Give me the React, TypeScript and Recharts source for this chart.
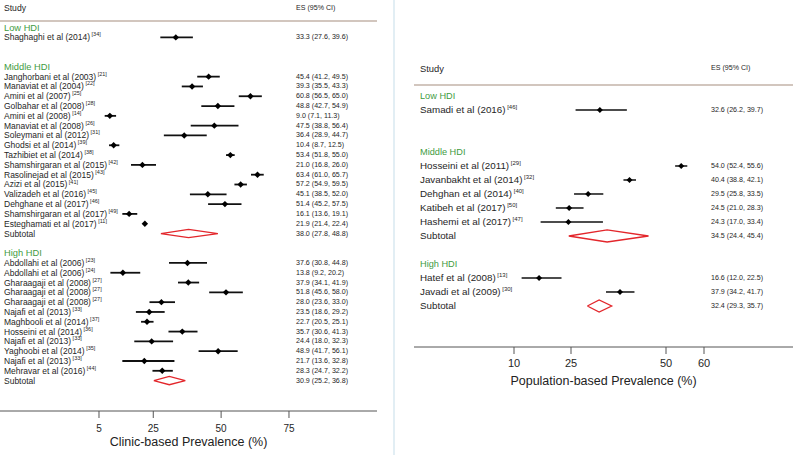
import React from 'react';
import { ComposedChart, Scatter, XAxis, YAxis, ErrorBar } from 'recharts';

// ---------- Clinic-based (left panel) ----------
const clinicLowStudies = ['Shaghaghi et al (2014)'];
const clinicLowRefs = ['34'];
const clinicLowES = [33.3];
const clinicLowLo = [27.6];
const clinicLowHi = [39.6];

const clinicMidStudies = [
  'Janghorbani et al (2003)', 'Manaviat et al (2004)', 'Amini et al (2007)', 'Golbahar et al (2008)',
  'Amini et al (2008)', 'Manaviat et al (2008)', 'Soleymani et al (2012)', 'Ghodsi et al (2014)',
  'Tazhibiet et al (2014)', 'Shamshirgaran et al (2015)', 'Rasolinejad et al (2015)', 'Azizi et al (2015)',
  'Valizadeh et al (2016)', 'Dehghane et al (2017)', 'Shamshirgaran et al (2017)', 'Esteghamati et al (2017)',
];
const clinicMidRefs = ['21', '22', '25', '28', '14', '26', '31', '39', '38', '42', '43', '41', '45', '46', '49', '11'];
const clinicMidES = [45.4, 39.3, 60.8, 48.8, 9.0, 47.5, 36.4, 10.4, 53.4, 21.0, 63.4, 57.2, 45.1, 51.4, 16.1, 21.9];
const clinicMidLo = [41.2, 35.5, 56.5, 42.7, 7.1, 38.8, 28.9, 8.7, 51.8, 16.8, 61.0, 54.9, 38.5, 45.2, 13.6, 21.4];
const clinicMidHi = [49.5, 43.3, 65.0, 54.9, 11.3, 56.4, 44.7, 12.5, 55.0, 26.0, 65.7, 59.5, 52.0, 57.5, 19.1, 22.4];
const clinicMidSubtotal = [38.0, 27.8, 48.8];

const clinicHighStudies = [
  'Abdollahi et al (2006)', 'Abdollahi et al (2006)', 'Gharaagaji et al (2008)', 'Gharaagaji et al (2008)',
  'Gharaagaji et al (2008)', 'Najafi et al (2013)', 'Maghbooli et al (2014)', 'Hosseini et al (2014)',
  'Najafi et al (2013)', 'Yaghoobi et al (2014)', 'Najafi et al (2013)', 'Mehravar et al (2016)',
];
const clinicHighRefs = ['23', '24', '27', '27', '27', '33', '37', '36', '33', '35', '33', '44'];
const clinicHighES = [37.6, 13.8, 37.9, 51.8, 28.0, 23.5, 22.7, 35.7, 24.4, 48.9, 21.7, 28.3];
const clinicHighLo = [30.8, 9.2, 34.1, 45.6, 23.6, 18.6, 20.5, 30.6, 18.0, 41.7, 13.6, 24.7];
const clinicHighHi = [44.8, 20.2, 41.9, 58.0, 33.0, 29.2, 25.1, 41.3, 32.3, 56.1, 32.8, 32.2];
const clinicHighSubtotal = [30.9, 25.2, 36.8];
const clinicTicks = [5, 25, 50, 75];

// ---------- Population-based (right panel) ----------
const popLowStudies = ['Samadi et al (2016)'];
const popLowRefs = ['46'];
const popLowES = [32.6];
const popLowLo = [26.2];
const popLowHi = [39.7];

const popMidStudies = ['Hosseini et al (2011)', 'Javanbakht et al (2014)', 'Dehghan et al (2014)', 'Katibeh et al (2017)', 'Hashemi et al (2017)'];
const popMidRefs = ['29', '32', '40', '50', '47'];
const popMidES = [54.0, 40.4, 29.5, 24.5, 24.3];
const popMidLo = [52.4, 38.8, 25.8, 21.0, 17.0];
const popMidHi = [55.6, 42.1, 33.5, 28.3, 33.4];
const popMidSubtotal = [34.5, 24.4, 45.4];

const popHighStudies = ['Hatef et al (2008)', 'Javadi et al (2009)'];
const popHighRefs = ['13', '30'];
const popHighES = [16.6, 37.9];
const popHighLo = [12.0, 34.2];
const popHighHi = [22.5, 41.7];
const popHighSubtotal = [32.4, 29.3, 35.7];
const popTicks = [10, 25, 50, 60];

const groupTitles = ['Low HDI', 'Middle HDI', 'High HDI'];

// ---------- helpers ----------
const FONT = '"Liberation Sans", Arial, Helvetica, sans-serif';
const GREEN = '#3f9b3f';
const RED = '#e3262b';
const TEXT = '#262626';

type Group = { title: string; studies: string[]; refs: string[]; es: number[]; lo: number[]; hi: number[]; sub: number[] | null };
type Row = { idx: number; kind: string; label: string; ref?: string; es?: number; lo?: number; hi?: number };

function buildRows(groups: Group[]): Row[] {
  const rows: Row[] = [];
  let i = 0;
  for (const g of groups) {
    rows.push({ idx: i++, kind: 'group', label: g.title });
    g.studies.forEach((s, k) => rows.push({ idx: i++, kind: 'study', label: s, ref: g.refs[k], es: g.es[k], lo: g.lo[k], hi: g.hi[k] }));
    if (g.sub) rows.push({ idx: i, kind: 'subtotal', label: 'Subtotal', es: g.sub[0], lo: g.sub[1], hi: g.sub[2] });
    i += 2;
  }
  return rows;
}

const clinicRows = buildRows([
  { title: groupTitles[0], studies: clinicLowStudies, refs: clinicLowRefs, es: clinicLowES, lo: clinicLowLo, hi: clinicLowHi, sub: null },
  { title: groupTitles[1], studies: clinicMidStudies, refs: clinicMidRefs, es: clinicMidES, lo: clinicMidLo, hi: clinicMidHi, sub: clinicMidSubtotal },
  { title: groupTitles[2], studies: clinicHighStudies, refs: clinicHighRefs, es: clinicHighES, lo: clinicHighLo, hi: clinicHighHi, sub: clinicHighSubtotal },
]);
const popRows = buildRows([
  { title: groupTitles[0], studies: popLowStudies, refs: popLowRefs, es: popLowES, lo: popLowLo, hi: popLowHi, sub: null },
  { title: groupTitles[1], studies: popMidStudies, refs: popMidRefs, es: popMidES, lo: popMidLo, hi: popMidHi, sub: popMidSubtotal },
  { title: groupTitles[2], studies: popHighStudies, refs: popHighRefs, es: popHighES, lo: popHighLo, hi: popHighHi, sub: popHighSubtotal },
]);

const fmt = (v?: number) => (v ?? 0).toFixed(1);

type PanelProps = {
  rows: Row[]; left: number; top: number; width: number; height: number;
  margin: { top: number; right: number; bottom: number; left: number };
  xDomain: [number, number]; yDomain: [number, number]; xTicks: number[]; xTitle: string;
  axisHeight: number; tickMargin: number; tickFont: number; titleOffset: number;
  labelFont: number; groupFont: number; headerFont: number; esFont: number; supFont: number;
  labelOffset: number; esOffset: number; headerLineGap: number;
  ciWidth: number; markerSize: number; diamondHalf: number;
};

function ForestPanel(p: PanelProps) {
  const x0 = p.xDomain[0];
  const plotWidth = p.width - p.margin.left - p.margin.right;
  const labelData = [
    { x: x0, y: p.yDomain[0], kind: 'header', label: 'Study' },
    ...p.rows.map((r) => ({ ...r, x: x0, y: r.idx })),
  ];
  const studyData = p.rows
    .filter((r) => r.kind === 'study')
    .map((r) => ({ x: r.es, y: r.idx, err: [+(r.es! - r.lo!).toFixed(2), +(r.hi! - r.es!).toFixed(2)] }));
  const subRows = p.rows.filter((r) => r.kind === 'subtotal');

  const renderLabel = (props: any) => {
    const d = props.payload ?? props;
    const cx = props.cx;
    const cy = props.cy;
    const tx = cx + p.labelOffset;
    const ex = cx + p.esOffset;
    if (d.kind === 'header') {
      return (
        <g>
          <text x={tx} y={cy} dominantBaseline="central" fontSize={p.headerFont} fill={TEXT} fontFamily={FONT}>Study</text>
          <text x={ex} y={cy} dominantBaseline="central" fontSize={p.esFont} fill={TEXT} fontFamily={FONT}>ES (95% CI)</text>
        </g>
      );
    }
    if (d.kind === 'group') {
      return <text x={tx} y={cy} dominantBaseline="central" fontSize={p.groupFont} fill={GREEN} fontFamily={FONT}>{d.label}</text>;
    }
    return (
      <g>
        <text x={tx} y={cy} dominantBaseline="central" fontSize={p.labelFont} fill={TEXT} fontFamily={FONT}>
          {d.label}
          {d.ref ? <tspan fontSize={p.supFont} dy={-p.labelFont * 0.35}>{' [' + d.ref + ']'}</tspan> : null}
        </text>
        <text x={ex} y={cy} dominantBaseline="central" fontSize={p.esFont} fill={TEXT} fontFamily={FONT}>
          {`${fmt(d.es)} (${fmt(d.lo)}, ${fmt(d.hi)})`}
        </text>
      </g>
    );
  };

  const renderMarker = (props: any) => {
    const s = p.markerSize;
    const { cx, cy } = props;
    return <path d={`M${cx - s},${cy} L${cx},${cy - s} L${cx + s},${cy} L${cx},${cy + s} Z`} fill="#000" />;
  };

  const emptyShape = () => <g />;

  return (
    <div style={{ position: 'absolute', left: p.left, top: p.top, width: p.width, height: p.height }}>
      <ComposedChart width={p.width} height={p.height} margin={p.margin}>
        <XAxis
          type="number"
          dataKey="x"
          domain={p.xDomain}
          ticks={p.xTicks}
          interval={0}
          tickSize={7}
          tickMargin={p.tickMargin}
          height={p.axisHeight}
          axisLine={{ stroke: '#555', strokeWidth: 1 }}
          tickLine={{ stroke: '#555', strokeWidth: 1 }}
          tick={{ fontSize: p.tickFont, fill: TEXT, fontFamily: FONT }}
          label={{ value: p.xTitle, position: 'insideBottom', offset: p.titleOffset, fontSize: 12.5, fill: '#222', fontFamily: FONT }}
        />
        <YAxis type="number" dataKey="y" domain={p.yDomain} reversed hide />
        {subRows.map((r, k) => (
          <Scatter
            key={'sub' + k}
            data={[
              { x: r.lo, y: r.idx },
              { x: r.es, y: r.idx - p.diamondHalf },
              { x: r.hi, y: r.idx },
              { x: r.es, y: r.idx + p.diamondHalf },
              { x: r.lo, y: r.idx },
            ]}
            line={{ stroke: RED, strokeWidth: 1.3, fill: 'none' }}
            lineType="joint"
            shape={emptyShape}
            isAnimationActive={false}
          />
        ))}
        <Scatter data={studyData} shape={renderMarker} isAnimationActive={false}>
          <ErrorBar dataKey="err" direction="x" width={0} stroke="#111" strokeWidth={p.ciWidth} isAnimationActive={false} />
        </Scatter>
        <Scatter data={labelData} shape={renderLabel} isAnimationActive={false} />
      </ComposedChart>
      <div
        style={{
          position: 'absolute',
          left: p.margin.left,
          top: p.margin.top + p.headerLineGap - 0.6,
          width: plotWidth,
          height: 1.2,
          background: '#d2c6be',
          pointerEvents: 'none',
        }}
      />
    </div>
  );
}

export default function App() {
  return (
    <div style={{ position: 'absolute', left: 0, top: 0, width: 800, height: 455, background: '#fff', overflow: 'hidden' }}>
      <ForestPanel
        rows={clinicRows}
        left={0}
        top={0}
        width={393}
        height={455}
        margin={{ top: 8, right: 16, bottom: 0, left: 0 }}
        xDomain={[-31.47, 107.43]}
        yDomain={[-2, 39.1]}
        xTicks={clinicTicks}
        xTitle="Clinic-based Prevalence (%)"
        axisHeight={44}
        tickMargin={7}
        tickFont={10}
        titleOffset={9}
        labelFont={8.5}
        groupFont={9.3}
        headerFont={8.6}
        esFont={7.1}
        supFont={5.5}
        labelOffset={4}
        esOffset={296}
        headerLineGap={13}
        ciWidth={1.8}
        markerSize={3.2}
        diamondHalf={0.42}
      />
      <div style={{ position: 'absolute', left: 393, top: 0, width: 2, height: 455, background: '#e2eef4' }} />
      <ForestPanel
        rows={popRows}
        left={400}
        top={0}
        width={400}
        height={395}
        margin={{ top: 68, right: 7, bottom: 0, left: 14 }}
        xDomain={[-16.32, 83.42]}
        yDomain={[-2, 17.93]}
        xTicks={popTicks}
        xTitle="Population-based Prevalence (%)"
        axisHeight={48}
        tickMargin={5}
        tickFont={11}
        titleOffset={10}
        labelFont={9.8}
        groupFont={9.2}
        headerFont={9.4}
        esFont={7.1}
        supFont={6}
        labelOffset={6}
        esOffset={297}
        headerLineGap={17}
        ciWidth={1.5}
        markerSize={3}
        diamondHalf={0.43}
      />
    </div>
  );
}
